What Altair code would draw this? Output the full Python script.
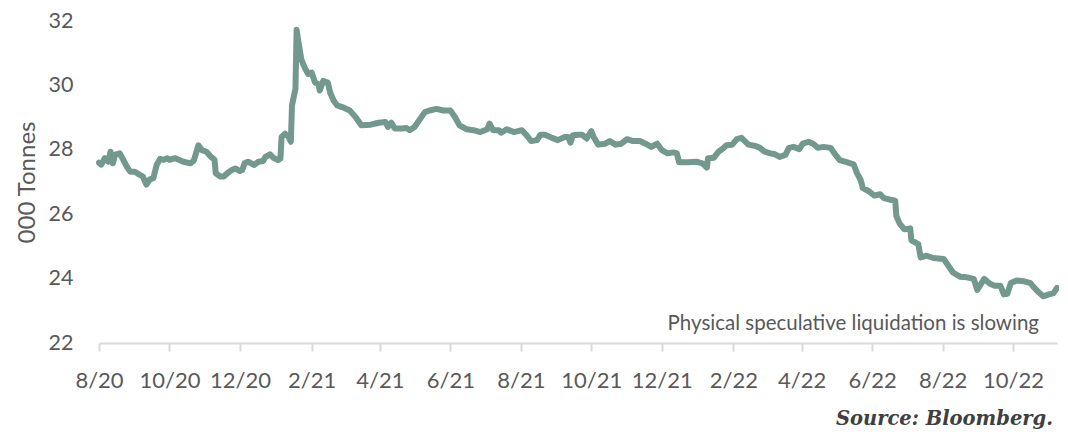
import altair as alt
import pandas as pd

start_date = "2020-08-01"

# days after 1 Aug 2020
day_offsets = [
    0, 2, 5, 8, 10, 12, 14, 18, 21, 24, 27, 31, 35, 38, 41, 44, 47, 50, 53, 56,
    59, 61, 66, 69, 73, 79, 82, 86, 89, 93, 97, 100, 101, 105, 108, 111, 115, 118, 122, 124,
    126, 129, 134, 138, 142, 144, 148, 151, 155, 157, 158, 161, 164, 166, 167, 170, 171, 172, 175, 178,
    181, 184, 187, 190, 191, 194, 198, 200, 203, 206, 211, 217, 222, 227, 235, 242, 248, 250, 253, 256,
    262, 266, 269, 273, 276, 282, 286, 292, 298, 304, 308, 312, 318, 324, 330, 336, 338, 341, 346, 348,
    353, 359, 366, 370, 374, 379, 382, 386, 392, 397, 403, 406, 408, 410, 415, 418, 422, 426, 428, 432,
    438, 442, 447, 452, 457, 462, 468, 473, 478, 483, 487, 492, 497, 500, 502, 509, 517, 522, 526, 527,
    532, 536, 540, 543, 548, 552, 556, 562, 568, 572, 576, 581, 585, 589, 594, 597, 601, 606, 609, 614,
    618, 622, 627, 633, 637, 641, 647, 653, 656, 659, 661, 666, 671, 676, 679, 685, 689, 690, 693, 697,
    702, 703, 709, 711, 716, 722, 731, 735, 739, 745, 751, 757, 760, 766, 771, 775, 780, 783, 786, 789,
    794, 800, 806, 809, 813, 817, 822, 826, 829,
]

# holdings, thousand tonnes
holdings = [
    27.60, 27.54, 27.74, 27.63, 27.94, 27.58, 27.85, 27.89, 27.69, 27.48, 27.32, 27.32, 27.23, 27.17, 26.92, 27.08, 27.12, 27.54, 27.72, 27.69,
    27.74, 27.69, 27.74, 27.69, 27.63, 27.58, 27.66, 28.14, 27.99, 27.94, 27.78, 27.69, 27.27, 27.17, 27.17, 27.27, 27.37, 27.42, 27.34, 27.37,
    27.58, 27.63, 27.53, 27.63, 27.65, 27.78, 27.86, 27.75, 27.68, 27.73, 28.40, 28.50, 28.40, 28.25, 29.38, 29.89, 31.73, 31.48, 30.81, 30.55,
    30.35, 30.40, 30.09, 30.04, 29.84, 30.14, 30.09, 29.78, 29.53, 29.38, 29.32, 29.22, 29.02, 28.76, 28.78, 28.84, 28.86, 28.71, 28.84, 28.66,
    28.66, 28.68, 28.61, 28.71, 28.86, 29.17, 29.22, 29.27, 29.22, 29.22, 29.02, 28.76, 28.64, 28.61, 28.55, 28.64, 28.81, 28.61, 28.61, 28.53,
    28.64, 28.55, 28.61, 28.45, 28.27, 28.30, 28.47, 28.47, 28.37, 28.30, 28.40, 28.40, 28.22, 28.45, 28.47, 28.47, 28.35, 28.58, 28.40, 28.16,
    28.19, 28.27, 28.16, 28.19, 28.33, 28.27, 28.27, 28.19, 28.09, 28.19, 27.99, 27.89, 27.92, 27.89, 27.61, 27.61, 27.63, 27.58, 27.45, 27.74,
    27.75, 27.94, 28.04, 28.14, 28.16, 28.33, 28.37, 28.16, 28.12, 28.06, 27.94, 27.89, 27.86, 27.78, 27.84, 28.06, 28.09, 28.02, 28.19, 28.25,
    28.19, 28.06, 28.09, 28.06, 27.86, 27.68, 27.62, 27.55, 27.27, 27.07, 26.81, 26.72, 26.58, 26.62, 26.50, 26.45, 26.42, 25.94, 25.70, 25.53,
    25.56, 25.19, 25.07, 24.66, 24.71, 24.64, 24.61, 24.40, 24.19, 24.06, 24.04, 23.99, 23.65, 23.99, 23.84, 23.78, 23.78, 23.51, 23.53, 23.86,
    23.94, 23.92, 23.86, 23.73, 23.58, 23.45, 23.51, 23.55, 23.71,
]

y_ticks = [22, 24, 26, 28, 30, 32]
x_tick_months = [(2020, 8), (2020, 10), (2020, 12), (2021, 2), (2021, 4), (2021, 6), (2021, 8),
                 (2021, 10), (2021, 12), (2022, 2), (2022, 4), (2022, 6), (2022, 8), (2022, 10)]

annotation = "Physical speculative liquidation is slowing"
source = "Source: Bloomberg."
y_title = "000 Tonnes"

dates = pd.to_datetime(start_date) + pd.to_timedelta(day_offsets, unit="D")
df = pd.DataFrame({"date": dates, "holdings": holdings})

GREY = "#595959"
FONT = "Lato"

x_enc = alt.X(
    "date:T",
    scale=alt.Scale(domain=[alt.DateTime(year=2020, month=8, date=1),
                            alt.DateTime(year=2022, month=11, date=8)]),
    axis=alt.Axis(
        values=[alt.DateTime(year=y, month=m, date=1) for y, m in x_tick_months],
        format="%-m/%y", formatType="time", title=None, grid=False,
        domainColor="#d9d9d9", domainWidth=2, tickColor="#d9d9d9", tickWidth=2,
        tickSize=8, labelPadding=19, labelFont=FONT, labelFontSize=22,
        labelColor=GREY, labelFlush=False, labelOverlap=False,
    ),
)
y_enc = alt.Y(
    "holdings:Q",
    scale=alt.Scale(domain=[22, 32], nice=False, zero=False),
    axis=alt.Axis(
        values=y_ticks, title=y_title, grid=False, domain=False, ticks=False,
        labelPadding=26, labelFont=FONT, labelFontSize=21.5, labelColor=GREY,
        titleFont=FONT, titleFontSize=24, titleFontWeight="normal", titleColor=GREY,
        titlePadding=9,
    ),
)

line = alt.Chart(df).mark_line(
    color="#73998f", strokeWidth=6, strokeJoin="round", strokeCap="round"
).encode(x=x_enc, y=y_enc)

note = alt.Chart(pd.DataFrame({"t": [annotation]})).mark_text(
    align="right", baseline="alphabetic", font=FONT, fontSize=20.5, color=GREY
).encode(text="t:N", x=alt.value(940), y=alt.value(309))

src = alt.Chart(pd.DataFrame({"t": [source]})).mark_text(
    align="right", baseline="alphabetic", font="DejaVu Serif", fontSize=19.5,
    fontStyle="italic", fontWeight="bold", color="#404040"
).encode(text="t:N", x=alt.value(954), y=alt.value(404))

chart = alt.layer(line, note, src).properties(
    width=958, height=322,
    autosize=alt.AutoSizeParams(type="none"),
    padding={"left": 91, "top": 13, "right": 2, "bottom": 90},
    background="white",
).configure_view(stroke=None)

chart.save("out.html", embed_options={"renderer": "svg", "actions": False})
